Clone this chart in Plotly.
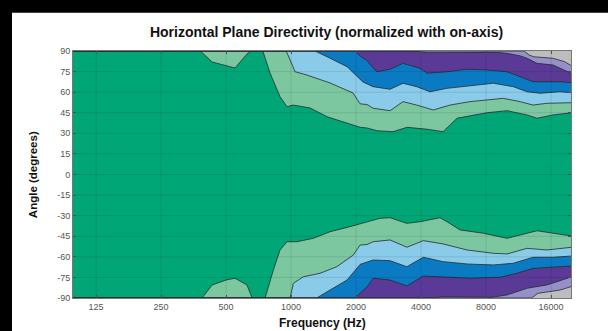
import plotly.graph_objects as go

# ---------------- data (frequency in Hz, angle in degrees) ----------------
x_tick_hz = [125, 250, 500, 1000, 2000, 4000, 8000, 16000]
x_tick_text = ["125", "250", "500", "1000", "2000", "4000", "8000", "16000"]
y_tick_deg = [90, 75, 60, 45, 30, 15, 0, -15, -30, -45, -60, -75, -90]

band_names = ["0 to -3 dB", "-3 to -6 dB", "-6 to -9 dB", "-9 to -12 dB", "-12 to -15 dB", "-15 to -18 dB"]
on_axis_colour = "#00A676"
band_colours = ["#7CC7A0", "#8ACBEA", "#0A7BC2", "#5B3A97", "#9690C8", "#BDBDBD"]

# upper half: angle (deg) above which each band level is reached
up1_hz = [95, 380, 431, 484, 550, 625, 650, 740, 799, 889, 958, 1021, 1224, 1468, 1817, 2088, 2249, 2502,
          2967, 3446, 4263, 5058, 5872, 6964, 8087, 10007, 12390, 13787, 16350, 20000]
up1_deg = [90, 90, 82, 79.8, 77.6, 87.8, 90, 90, 74, 56.7, 49.4, 50.6, 48.5, 42.1, 37.5, 34.4, 33.9, 31.9,
           31.2, 34.4, 33, 31.2, 41, 43.4, 45, 46.5, 43.4, 41, 43.4, 45]
up2_hz = [95, 950, 990, 1044, 1183, 1516, 1937, 2088, 2249, 2398, 2874, 3301, 3819, 4560, 5450, 6745,
          9621, 11495, 13203, 15330, 20000]
up2_deg = [90, 90, 83.4, 74.9, 72.5, 66.7, 59.4, 51.5, 51, 48.3, 46.5, 53.1, 50.6, 47, 50.6, 53.1,
           55.5, 53.1, 50.6, 51.9, 52.3]
up3_hz = [95, 1291, 1468, 1817, 2150, 2398, 2874, 3301, 3819, 4400, 5278, 6533, 8650, 10700, 12390,
          14230, 17610, 20000]
up3_deg = [90, 90, 85.8, 78.6, 67.5, 64, 62.1, 66.5, 64, 60.3, 62.8, 64.5, 66.5, 64, 60.3,
           59.2, 60.3, 59.6]
up4_hz = [95, 1979, 2100, 2250, 2398, 2502, 2874, 3301, 3958, 4263, 5278, 6533, 8087, 10007, 11495,
          13203, 17610, 20000]
up4_deg = [90, 90, 86, 83, 77.6, 74.9, 76.7, 81, 77.4, 73.8, 74.9, 76.7, 76.2, 74.9, 71.3,
           67.6, 67.6, 66.9]
up5_hz = [95, 3700, 4300, 6500, 7800, 9000, 10007, 11495, 12390, 13787, 16350, 20000]
up5_deg = [90, 90, 88.8, 88.8, 89.3, 89, 88.3, 86.5, 84.7, 81, 79.8, 73.5]
up6_hz = [95, 12000, 12700, 13300, 16350, 18500, 20000]
up6_deg = [90, 90, 87, 85.8, 84.7, 82.2, 79]

# lower half: angle (deg) below which each band level is reached
lo1_hz = [95, 387, 431, 500, 550, 625, 660, 758, 828, 889, 958, 1063, 1269, 1516, 1876, 2249, 2583, 2874,
          3438, 3958, 4896, 5278, 6063, 7772, 10007, 11495, 13787, 16350, 20000]
lo1_deg = [-90, -90, -80.5, -76.9, -75.6, -80.5, -90, -90, -69.6, -55, -49, -49, -46.5, -41.7, -38, -34.4,
           -31.9, -31.5, -35.6, -34.4, -31.5, -34.4, -40.4, -42.8, -46.5, -44.1, -41, -42.8, -44.8]
lo2_hz = [95, 990, 1025, 1141, 1362, 1628, 1943, 2088, 2249, 2400, 2874, 3438, 4100, 5058, 6533, 8650,
          10007, 12390, 15330, 20000]
lo2_deg = [-90, -90, -79.3, -74.5, -72, -67.2, -58.7, -51.4, -51, -49, -47.7, -53, -48.2, -50.6, -55,
           -57.4, -57.9, -53.8, -55, -53]
lo3_hz = [95, 1315, 1516, 1817, 2088, 2400, 2874, 3438, 4100, 5058, 6533, 8650, 10700, 13203, 16350, 20000]
lo3_deg = [-90, -90, -84.2, -76.9, -65.5, -62.3, -62.8, -67.2, -60.3, -63.5, -65.2, -65.9, -64.7, -60.3,
           -60.3, -59.4]
lo4_hz = [95, 1979, 2249, 2400, 2874, 3438, 4100, 5278, 6800, 9288, 11100, 13203, 16350, 20000]
lo4_deg = [-90, -90, -81.8, -75.6, -76.9, -81.2, -74, -74.9, -75.6, -74.9, -72, -68.4, -67.6, -66.7]
lo5_hz = [95, 4500, 5000, 7000, 8500, 10007, 12390, 15330, 20000]
lo5_deg = [-90, -90, -89.2, -89.2, -89.5, -87.8, -82.9, -80.5, -74.5]
lo6_hz = [95, 13000, 13900, 17610, 20000]
lo6_deg = [-90, -90, -86.6, -84.2, -81.5]

upper = [(up1_hz, up1_deg), (up2_hz, up2_deg), (up3_hz, up3_deg),
         (up4_hz, up4_deg), (up5_hz, up5_deg), (up6_hz, up6_deg)]
lower = [(lo1_hz, lo1_deg), (lo2_hz, lo2_deg), (lo3_hz, lo3_deg),
         (lo4_hz, lo4_deg), (lo5_hz, lo5_deg), (lo6_hz, lo6_deg)]

# ---------------- figure ----------------
fig = go.Figure()
edge = "rgba(35,45,45,0.8)"

for k, colour in enumerate(band_colours):
    for (hz, deg), limit in ((upper[k], 90), (lower[k], -90)):
        fig.add_trace(go.Scatter(
            x=list(hz) + list(hz)[::-1],
            y=list(deg) + [limit] * len(hz),
            fill="toself", fillcolor=colour, mode="none",
            hoverinfo="skip", showlegend=False, name=band_names[k]))
    for hz, deg in (upper[k], lower[k]):
        fig.add_trace(go.Scatter(
            x=hz, y=deg, mode="lines", line=dict(color=edge, width=1),
            hoverinfo="skip", showlegend=False))

# grid lines drawn above the filled bands (as in the reference)
shapes = []
for v in x_tick_hz:
    shapes.append(dict(type="line", xref="x", yref="paper", x0=v, x1=v, y0=0, y1=1,
                       line=dict(color="rgba(0,0,0,0.10)", width=1), layer="above"))
for v in y_tick_deg[1:-1]:
    shapes.append(dict(type="line", xref="paper", yref="y", x0=0, x1=1, y0=v, y1=v,
                       line=dict(color="rgba(0,0,0,0.10)", width=1), layer="above"))
# black frame strips along the top and left of the picture (kept inside the page)
shapes.append(dict(type="rect", xref="paper", yref="paper", x0=-0.1466, x1=-0.1225, y0=-0.1336, y1=1.2065,
                   fillcolor="black", line=dict(width=0), layer="above"))
shapes.append(dict(type="rect", xref="paper", yref="paper", x0=-0.1466, x1=1.0743, y0=1.155, y1=1.2065,
                   fillcolor="black", line=dict(width=0), layer="above"))

tick_font = dict(family="Liberation Sans, Arial, sans-serif", size=9, color="#555555")

fig.update_layout(
    width=608, height=331,
    margin=dict(l=73, r=37, t=51, b=33),
    paper_bgcolor="white", plot_bgcolor=on_axis_colour,
    shapes=shapes,
    title=dict(text="<b>Horizontal Plane Directivity (normalized with on-axis)</b>",
               x=0.537, xref="container", xanchor="center",
               y=1 - 32 / 331, yref="container", yanchor="middle",
               font=dict(family="Liberation Sans, Arial, sans-serif", size=14, color="#111111")),
    annotations=[
        dict(text="<b>Frequency (Hz)</b>", xref="paper", yref="paper", x=0.5, y=-0.101,
             showarrow=False, xanchor="center", yanchor="middle",
             font=dict(family="Liberation Sans, Arial, sans-serif", size=12, color="#111111")),
        dict(text="<b>Angle (degrees)</b>", xref="paper", yref="paper", x=-0.081, y=0.5,
             showarrow=False, textangle=-90, xanchor="center", yanchor="middle",
             font=dict(family="Liberation Sans, Arial, sans-serif", size=11.5, color="#111111")),
    ],
)
fig.update_xaxes(type="log", range=[1.990, 4.2967], tickvals=x_tick_hz, ticktext=x_tick_text,
                 ticks="inside", ticklen=3, tickcolor="#555", showgrid=False, zeroline=False,
                 showline=True, linecolor="#777", linewidth=1, mirror="ticks",
                 tickfont=tick_font, layer="above traces")
fig.update_yaxes(range=[-90, 90], tickvals=y_tick_deg, ticktext=[str(v) for v in y_tick_deg],
                 ticks="inside", ticklen=3, tickcolor="#555", showgrid=False, zeroline=False,
                 showline=True, linecolor="#777", linewidth=1, mirror="ticks",
                 tickfont=tick_font, layer="above traces")

fig.write_html("out.html")
